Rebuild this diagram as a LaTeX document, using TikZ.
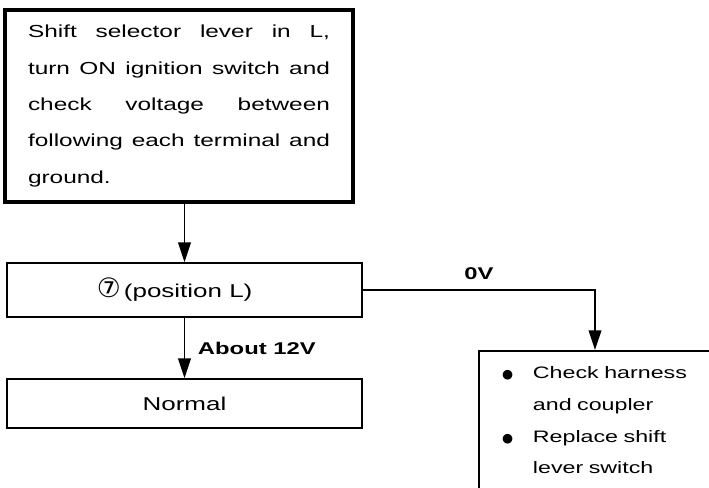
\documentclass[tikz,border=0pt]{standalone}
\usepackage{fontspec}
\setmainfont[FakeStretch=1.4]{Liberation Sans}
\newfontfamily\symfont{DejaVu Sans}
\usetikzlibrary{arrows.meta,positioning}

\newcommand\bul{\makebox[22pt][l]{\symfont\fontsize{9}{9}\selectfont ●}}

\begin{document}
\begin{tikzpicture}[
  every node/.style = {font=\fontsize{13.2}{25.8}\selectfont},
  box/.style     = {draw, rectangle, line width=1.2pt, inner sep=0pt},
  testbox/.style = {box, line width=2.2pt, minimum width=8.7cm, minimum height=4.8cm,
                    text width=7.55cm, align=justify,
                    font=\fontsize{12.4}{25.8}\selectfont},
  resbox/.style  = {box, minimum width=8.875cm},
  fixbox/.style  = {box, minimum width=5.8cm, inner xsep=0.575cm, inner ysep=0.4cm,
                    text width=4.65cm, align=left, text depth=3cm,
                    font=\fontsize{11.8}{22.5}\selectfont},
  vlabel/.style  = {inner sep=0pt, font=\fontsize{12.1}{14}\selectfont\bfseries},
  arr/.style     = {line width=1.2pt, -{Triangle[length=14pt, width=9pt]}},
]
\useasboundingbox (0,0) rectangle (17.725,-12.175);
\clip (0,0) rectangle (17.725,-12.175);

\node[testbox] (test) at (4.475,-2.65) {Shift selector lever in L,\linebreak
  turn ON ignition switch and\linebreak check voltage between\linebreak
  following each terminal and\linebreak ground.};
\node[resbox, minimum height=1.35cm] (pos) at (4.6125,-7.25)
  {{\symfont\fontsize{19}{19}\selectfont ⑦}\,(position L)\hspace*{14pt}};
\node[resbox, minimum height=1.225cm] (normal) at (4.6125,-10.0875) {Normal};
\node[fixbox, anchor=north] (fix) at (14.875,-8.75)
  {\bul Check harness\\ \hspace*{22pt}and coupler\\
   \bul Replace shift\\ \hspace*{22pt}lever switch};

\draw[arr] (test.south -| pos.north) -- (pos.north);
\draw[arr] (pos.south) -- node[vlabel, right=9pt] {About 12V} (normal.north);
\draw[arr] (pos.east) -| node[vlabel, above=7pt, pos=0.25] {0V} (fix.north);
\end{tikzpicture}
\end{document}
